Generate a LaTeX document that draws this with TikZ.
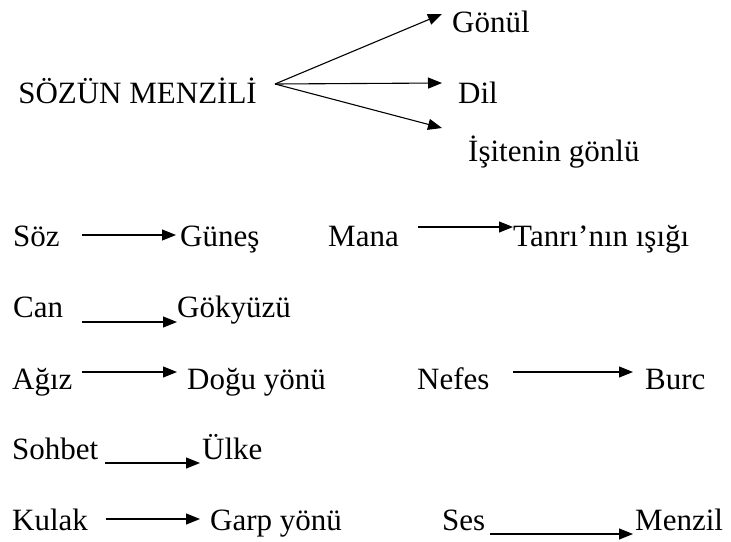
\documentclass[tikz,border=0pt]{standalone}
\usepackage{fontspec}
\setmainfont{Liberation Serif}
\usetikzlibrary{arrows.meta}
\pgfdeclarelayer{edgelayer}
\pgfdeclarelayer{nodelayer}
\pgfsetlayers{edgelayer,nodelayer,main}
\tikzset{font=\fontsize{31}{37}\selectfont}
\tikzstyle{none}=[inner sep=0pt]
\tikzstyle{word}=[inner sep=0pt,anchor=base west]
\tikzstyle{arr}=[line width=1.1pt,-{Triangle[length=14pt,width=11pt]}]
\begin{document}
\begin{tikzpicture}[x=1pt,y=-1pt]
	\useasboundingbox (0,0) rectangle (731,541);
	\begin{pgfonlayer}{nodelayer}
		\node [style=word,anchor=base east] (0) at (257, 103) {SÖZÜN MENZİLİ};
		\node [style=word] (1) at (452, 32) {Gönül};
		\node [style=word] (2) at (458, 103) {Dil};
		\node [style=word] (3) at (468, 161) {İşitenin gönlü};
		\node [style=word] (4) at (13, 246) {Söz};
		\node [style=word] (5) at (180, 246) {Güneş};
		\node [style=word] (6) at (328, 246) {Mana};
		\node [style=word] (7) at (513, 246) {Tanrı’nın ışığı};
		\node [style=word] (8) at (13, 317) {Can};
		\node [style=word] (9) at (177, 317) {Gökyüzü};
		\node [style=word] (10) at (12, 389) {Ağız};
		\node [style=word] (11) at (187, 389) {Doğu yönü};
		\node [style=word] (12) at (417, 389) {Nefes};
		\node [style=word] (13) at (645, 389) {Burc};
		\node [style=word] (14) at (12, 459) {Sohbet};
		\node [style=word] (15) at (202, 459) {Ülke};
		\node [style=word] (16) at (12, 530) {Kulak};
		\node [style=word] (17) at (210, 530) {Garp yönü};
		\node [style=word] (18) at (442, 530) {Ses};
		\node [style=word] (19) at (635, 530) {Menzil};
		% arrow ends
		\node [style=none] (20) at (275, 84) {};
		\node [style=none] (21) at (442, 14) {};
		\node [style=none] (22) at (442, 83) {};
		\node [style=none] (23) at (442, 128) {};
		\node [style=none] (24) at (82, 235) {};
		\node [style=none] (25) at (176, 235) {};
		\node [style=none] (26) at (418, 227) {};
		\node [style=none] (27) at (513, 227) {};
		\node [style=none] (28) at (82, 322) {};
		\node [style=none] (29) at (177, 322) {};
		\node [style=none] (30) at (82, 372) {};
		\node [style=none] (31) at (177, 372) {};
		\node [style=none] (32) at (513, 372) {};
		\node [style=none] (33) at (633, 372) {};
		\node [style=none] (34) at (105, 463) {};
		\node [style=none] (35) at (200, 463) {};
		\node [style=none] (36) at (106, 519) {};
		\node [style=none] (37) at (200, 519) {};
		\node [style=none] (38) at (490, 534) {};
		\node [style=none] (39) at (633, 534) {};
	\end{pgfonlayer}
	\begin{pgfonlayer}{edgelayer}
		\draw [style=arr] (20.center) to (21.center);
		\draw [style=arr] (20.center) to (22.center);
		\draw [style=arr] (20.center) to (23.center);
		\draw [style=arr] (24.center) to (25.center);
		\draw [style=arr] (26.center) to (27.center);
		\draw [style=arr] (28.center) to (29.center);
		\draw [style=arr] (30.center) to (31.center);
		\draw [style=arr] (32.center) to (33.center);
		\draw [style=arr] (34.center) to (35.center);
		\draw [style=arr] (36.center) to (37.center);
		\draw [style=arr] (38.center) to (39.center);
	\end{pgfonlayer}
\end{tikzpicture}
\end{document}
